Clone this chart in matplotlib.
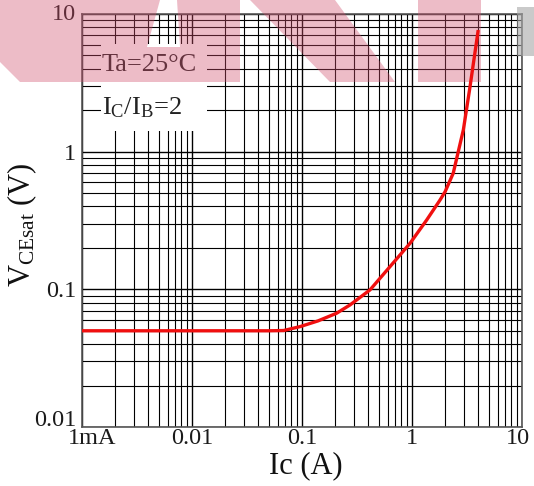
import matplotlib
matplotlib.use("Agg")
import matplotlib.pyplot as plt
from matplotlib.patches import Polygon, Rectangle
from matplotlib.transforms import ScaledTranslation
from matplotlib.ticker import FixedLocator, NullFormatter

plt.rcParams['font.family'] = ['Liberation Serif', 'DejaVu Serif']
plt.rcParams['mathtext.fontset'] = 'custom'
plt.rcParams['mathtext.rm'] = 'Liberation Serif'
plt.rcParams['mathtext.it'] = 'Liberation Serif:italic'

# ---- data ----
ic = [0.001, 0.01, 0.05, 0.068, 0.096, 0.14, 0.206, 0.273, 0.415, 0.96,
      1.36, 1.8, 2.0, 2.37, 2.93, 3.37, 4.0]
vce = [0.05, 0.05, 0.05, 0.0502, 0.0536, 0.059, 0.067, 0.077, 0.099, 0.216,
       0.319, 0.446, 0.512, 0.697, 1.44, 2.97, 7.65]
x_ticks = [0.001, 0.01, 0.1, 1, 10]
x_tick_labels = ['1mA', '0.01', '0.1', '1', '10']
y_ticks = [0.01, 0.1, 1, 10]
y_tick_labels = ['0.01', '0.1', '1', '10']

W, H = 534, 486
fig = plt.figure(figsize=(W / 100, H / 100), dpi=100)
ax = fig.add_axes([82 / W, 1 - 427 / H, 440 / W, 413 / H])
ax.set_xscale('log')
ax.set_yscale('log')
ax.set_xlim(0.001, 10)
ax.set_ylim(0.01, 10)

ax.set_xticks(x_ticks)
ax.set_xticklabels(x_tick_labels)
ax.set_yticks(y_ticks)
ax.set_yticklabels(y_tick_labels)
minor_x = [m * 10.0 ** e for e in range(-3, 1) for m in range(2, 10)]
minor_y = [m * 10.0 ** e for e in range(-2, 1) for m in range(2, 10)]
ax.xaxis.set_minor_locator(FixedLocator(minor_x))
ax.yaxis.set_minor_locator(FixedLocator(minor_y))
ax.xaxis.set_minor_formatter(NullFormatter())
ax.yaxis.set_minor_formatter(NullFormatter())

ax.tick_params(which='both', length=0)
ax.tick_params(axis='x', labelsize=17.5, pad=1.0, colors='#1a1a1a')
ax.tick_params(axis='y', labelsize=17.5, pad=4.0, colors='#1a1a1a')

ax.grid(which='major', color='black', linewidth=1.0)
ax.grid(which='minor', color='black', linewidth=0.8)
ax.set_axisbelow(True)
for s in ax.spines.values():
    s.set_color('#555555')
    s.set_linewidth(1.2)

# tick label nudges (as in the reference)
xt = ax.xaxis.get_major_ticks()
xt[0].label1.set_transform(xt[0].label1.get_transform() + ScaledTranslation(0.10, 0, fig.dpi_scale_trans))
xt[-1].label1.set_transform(xt[-1].label1.get_transform() + ScaledTranslation(-0.04, 0, fig.dpi_scale_trans))
yt = ax.yaxis.get_major_ticks()
yt[0].label1.set_transform(yt[0].label1.get_transform() + ScaledTranslation(0, 0.09, fig.dpi_scale_trans))
yt[-1].label1.set_transform(yt[-1].label1.get_transform() + ScaledTranslation(0, 0.02, fig.dpi_scale_trans))

# curve
ax.plot(ic, vce, color='#f01010', linewidth=2.4, zorder=5, solid_capstyle='butt')

# annotation box
ax.add_patch(Rectangle((0.043, 0.717), 0.241, 0.21, transform=ax.transAxes,
                       facecolor='white', edgecolor='none', zorder=2))
ax.text(0.045, 0.877, 'Ta=25°C', transform=ax.transAxes, ha='left', va='center',
        fontsize=19, color='#222222', zorder=2.6)
ax.text(0.045, 0.772, r'$\mathrm{I_C/I_B}$=2', transform=ax.transAxes, ha='left',
        va='center', fontsize=19, color='#222222', zorder=2.6)

# axis labels
ax.text(0.509, -0.094, 'Ic (A)', transform=ax.transAxes, ha='center', va='center',
        fontsize=22, color='#111111')
ax.text(-0.136, 0.489, r'$\mathrm{V_{CEsat}}$ (V)', transform=ax.transAxes,
        ha='center', va='center', rotation=90, fontsize=22, color='#111111')

# watermark (pixel coords, y down)
def px(pts):
    return [(x / W, 1 - y / H) for x, y in pts]

wm_pink = [
    [(0, 0), (160, 0), (147, 47), (180, 47), (177, 0), (240, 0), (240, 82), (20, 82), (0, 62)],
    [(250, 0), (335, 0), (395, 82), (330, 82)],
    [(418, 0), (481, 0), (481, 82), (418, 82)],
]
for poly in wm_pink:
    ax.add_patch(Polygon(px(poly), closed=True, transform=fig.transFigure,
                         facecolor=(0.82, 0.31, 0.43), alpha=0.38, edgecolor='none',
                         clip_on=False, zorder=3))
ax.add_patch(Polygon(px([(517, 7), (534, 7), (534, 56), (517, 56)]), closed=True,
                     transform=fig.transFigure, facecolor='#a8a8a8', alpha=0.6,
                     edgecolor='none', clip_on=False, zorder=3))

fig.savefig('out.png', dpi=100)
